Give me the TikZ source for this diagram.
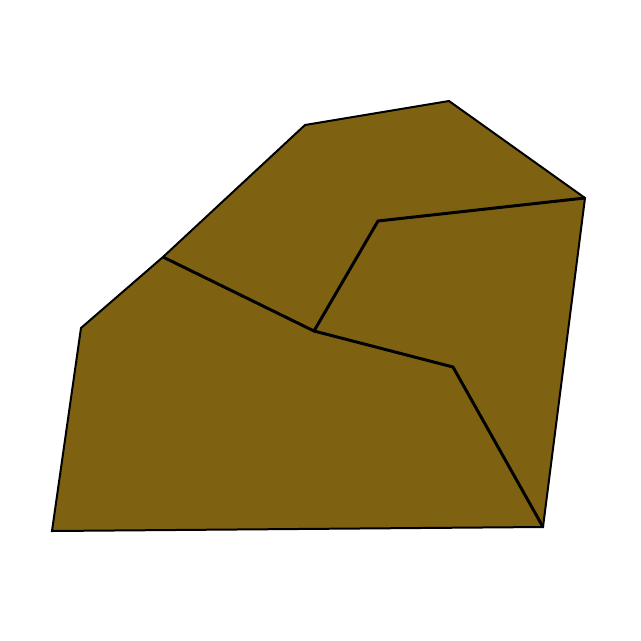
\documentclass[tikz,border=0pt]{standalone}
\definecolor{olivebrown}{HTML}{7F6211}
\begin{document}
\begin{tikzpicture}[x=1pt,y=-1pt,
  outer/.style={draw=black,line width=2pt,fill=olivebrown,line join=miter},
  inner/.style={draw=black,line width=3pt,line join=round}]
\useasboundingbox (0,0) rectangle (641,641);
\coordinate (p1) at (52,531);
\coordinate (p2) at (81,328);
\coordinate (p3) at (163,257);
\coordinate (p4) at (305,125);
\coordinate (p5) at (449,101);
\coordinate (p6) at (585,198);
\coordinate (p7) at (543,527);
\coordinate (c) at (314,331);
\coordinate (q1) at (453,367);
\coordinate (r1) at (378,221);
\path[outer] (p1) -- (p2) -- (p3) -- (p4) -- (p5) -- (p6) -- (p7) -- cycle;
\draw[inner] (p3) -- (c) -- (q1) -- (p7);
\draw[inner] (c) -- (r1) -- (p6);
\end{tikzpicture}
\end{document}
